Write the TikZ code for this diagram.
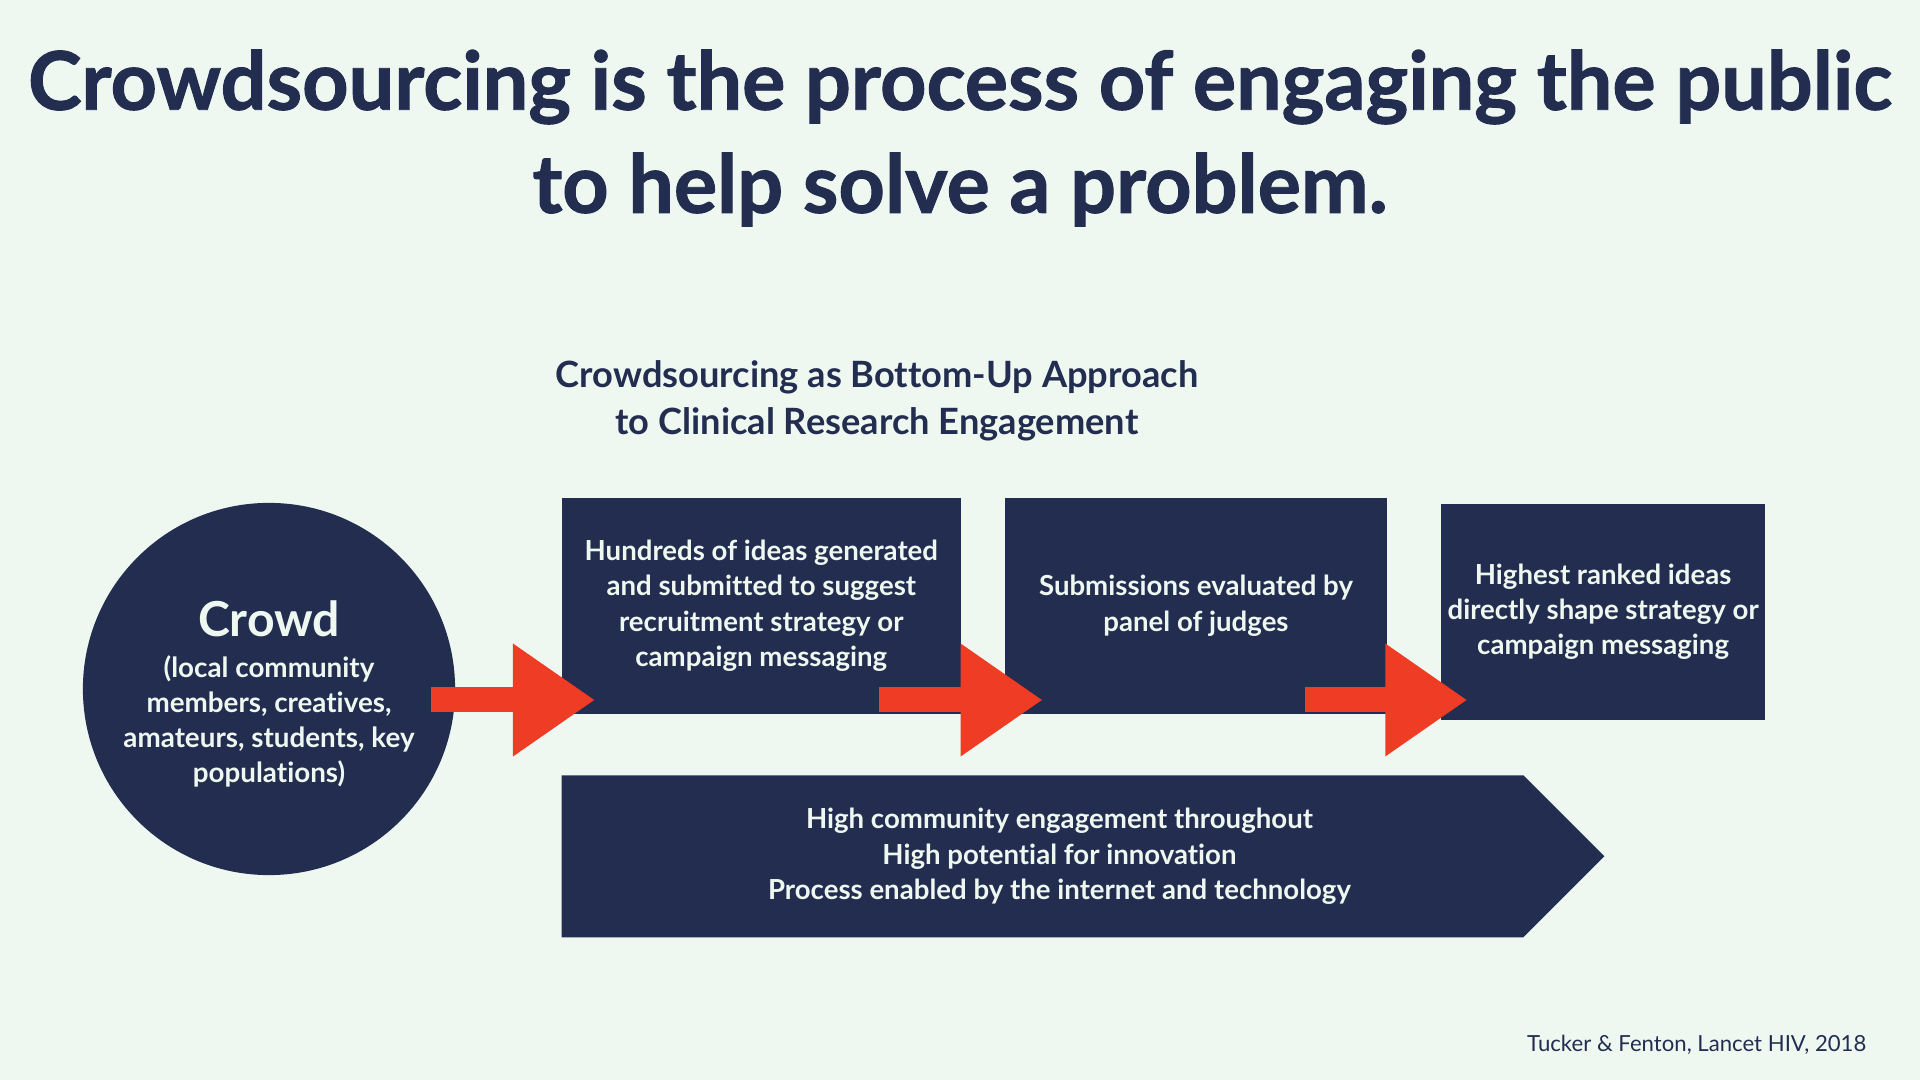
\documentclass[tikz,border=0pt]{standalone}
\usepackage{fontspec}
\setmainfont{Lato}[Ligatures={NoCommon}]
\newfontfamily\headfont{Lato}[Ligatures={NoCommon},BoldFeatures={FakeBold=1.2}]
\usetikzlibrary{positioning,arrows.meta,shapes.symbols,calc}
\definecolor{navy}{HTML}{222D50}
\definecolor{flowred}{HTML}{EE3D24}
\definecolor{mint}{HTML}{EEF8F1}

\begin{document}
\begin{tikzpicture}[
        x=0.01cm, y=-0.01cm,
        stage/.style={
            rectangle, fill = navy, text = mint, font = \fontsize{7.85}{10}\selectfont\bfseries, align = center, inner sep = 0pt
        },
        flow/.style={
            draw = flowred, line width = 0.25cm, -{Triangle[length=0.82cm,width=1.07cm]}
        },
    ]
        \fill[mint] (0,0) rectangle (1920,1080);
        \useasboundingbox (0,0) rectangle (1920,1080);

        \node (title) [text=navy,font=\headfont\fontsize{23}{29.3}\selectfont\bfseries,align=center] at (960,138) {Crowdsourcing is the process of engaging the public\\ to help solve a problem.};
        \node (subtitle) [text=navy,font=\fontsize{10.3}{13.2}\selectfont\bfseries,align=center] at (877,401) {Crowdsourcing as Bottom-Up Approach\\ to Clinical Research Engagement};

        \node (crowd) [circle,fill=navy,text=mint,minimum size=3.72cm,inner sep=0pt,align=center,font=\fontsize{7.9}{10}\selectfont\bfseries] at (269,689) {\rule{0pt}{13.2pt}{\fontsize{13.7}{15}\selectfont Crowd}\\[1.5pt] (local community\\ members, creatives,\\ amateurs, students, key\\ populations)};

        \node (ideas) [stage,minimum width=3.99cm,minimum height=2.16cm,anchor=north west] at (561,497) { Hundreds of ideas generated\\ and submitted to suggest\\ recruitment strategy or\\ campaign messaging };
        \node (judges) [stage,minimum width=3.81cm,minimum height=2.16cm,right=0.43cm of ideas] { Submissions evaluated by\\ panel of judges };
        \node (ranked) [stage,minimum width=3.24cm,minimum height=2.16cm,right=0.53cm of judges,yshift=-0.06cm] { Highest ranked ideas\\ directly shape strategy or\\ campaign messaging };

        \node (throughout) [stage,signal,signal to=east,signal pointer angle=90,minimum width=10.42cm,minimum height=1.62cm,below right=0.6cm and 0cm of ideas.south west] { \hspace*{0.34cm}High community engagement throughout\\ \hspace*{0.34cm}High potential for innovation\\ \hspace*{0.34cm}Process enabled by the internet and technology };

        \coordinate (flowline) at (0,700);
        \draw[flow] ($(crowd.east |- flowline)+(-25,0)$) -- ($(ideas.west |- flowline)+(34,0)$);
        \draw[flow] ($(ideas.east |- flowline)+(-83,0)$) -- ($(judges.west |- flowline)+(38,0)$);
        \draw[flow] ($(judges.east |- flowline)+(-82,0)$) -- ($(ranked.west |- flowline)+(27,0)$);

        \node (source) [text=navy,font=\fontsize{6.3}{7}\selectfont,anchor=east,inner sep=0pt] at (1867,1045) {Tucker \& Fenton, Lancet HIV, 2018};

    \end{tikzpicture}
\end{document}
